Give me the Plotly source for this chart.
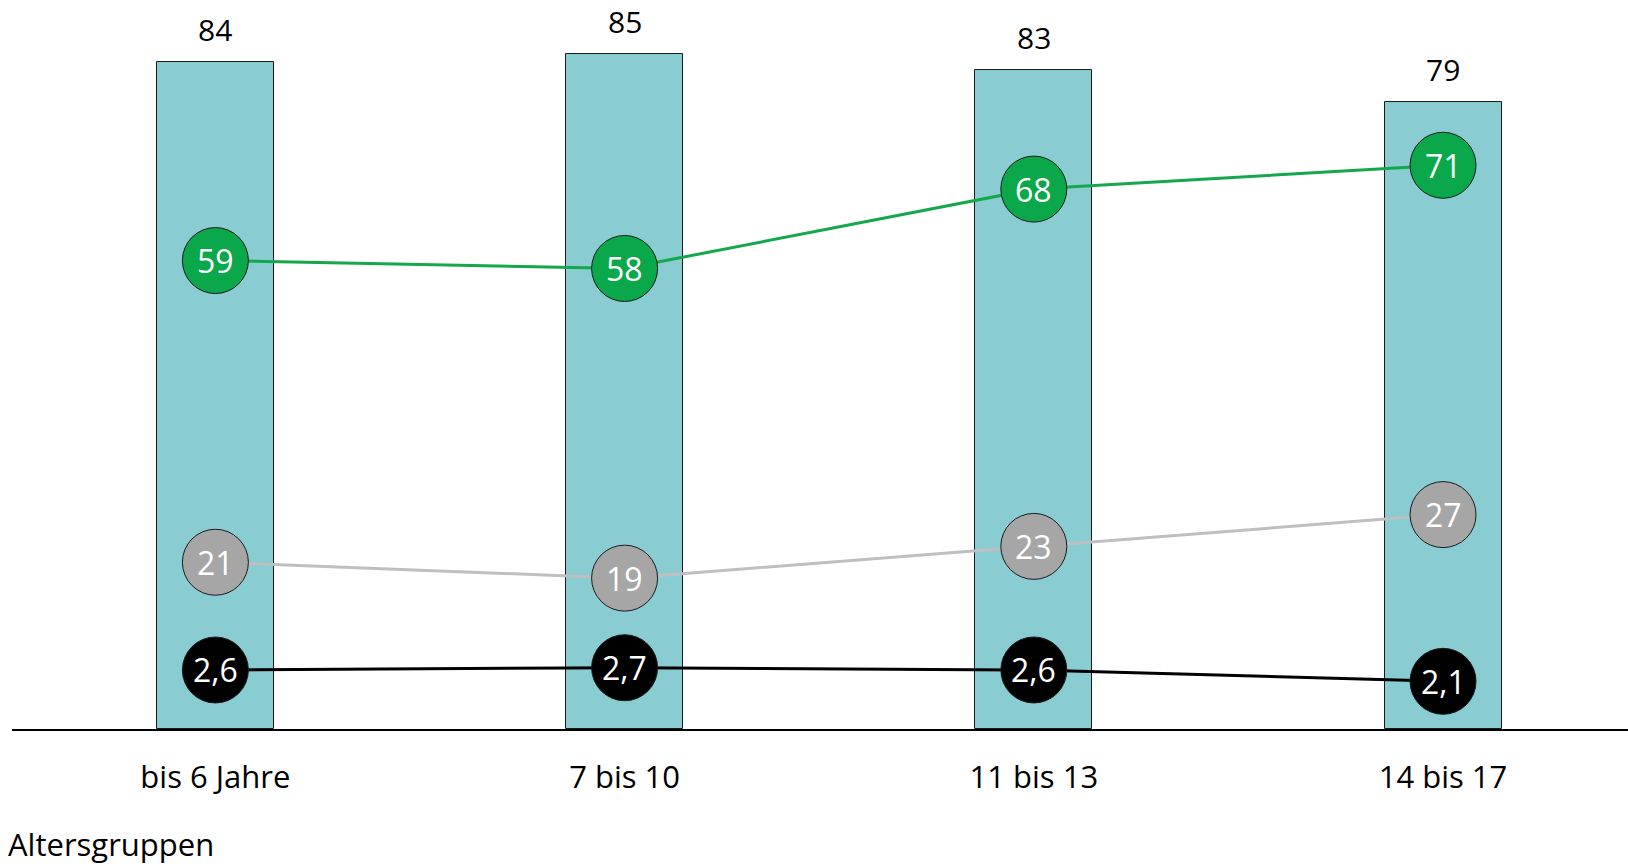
import plotly.graph_objects as go

categories = ["bis 6 Jahre", "7 bis 10", "11 bis 13", "14 bis 17"]
bar_values = [84, 85, 83, 79]
green_values = [59, 58, 68, 71]
gray_values = [21, 19, 23, 27]
black_values = [2.6, 2.7, 2.6, 2.1]

FONT = "Open Sans"
fig = go.Figure()

fig.add_trace(go.Bar(
    x=categories, y=bar_values, width=0.286,
    marker=dict(color="#89CDD3", line=dict(color="#1a1a1a", width=1)),
    hoverinfo="skip", showlegend=False,
))

def line_trace(vals, fill, linecol, yaxis="y", yref="y", fmt=lambda v: str(v)):
    fig.add_trace(go.Scatter(
        x=categories, y=vals, yaxis=yaxis,
        mode="lines+markers",
        line=dict(color=linecol, width=3),
        marker=dict(size=66, color=fill, line=dict(color="#1a1a1a", width=1)),
        showlegend=False, cliponaxis=False, hoverinfo="skip",
    ))
    for c, v in zip(categories, vals):
        fig.add_annotation(x=c, y=v, yref=yref, text=fmt(v), showarrow=False,
                           xanchor="center", yanchor="middle", yshift=0,
                           font=dict(family=FONT, size=32, color="white"))

line_trace(green_values, "#0AA84A", "#13A84B")
line_trace(gray_values, "#A6A6A6", "#BFBFBF")
line_trace(black_values, "#000000", "#000000", yaxis="y2", yref="y2",
           fmt=lambda v: f"{v:.1f}".replace(".", ","))

for c, v in zip(categories, bar_values):
    fig.add_annotation(x=c, y=v, text=str(v), showarrow=False, yanchor="bottom",
                       yshift=10, font=dict(family=FONT, size=30, color="black"))

fig.add_annotation(x=0, xref="paper", y=0, yref="paper", xanchor="left", yanchor="middle",
                   text="Altersgruppen", showarrow=False, yshift=-115, xshift=-6,
                   font=dict(family=FONT, size=31, color="black"))

fig.update_layout(
    width=1628, height=866,
    margin=dict(l=12, r=0, t=0, b=137),
    plot_bgcolor="white", paper_bgcolor="white",
    xaxis=dict(type="category", range=[-0.497, 3.452], showline=True, linecolor="black",
               linewidth=2, showgrid=False, ticks="", ticklabelstandoff=20,
               tickfont=dict(family=FONT, size=31, color="black")),
    yaxis=dict(range=[0, 729 / 7.94], visible=False, showgrid=False, zeroline=False),
    yaxis2=dict(range=[0, 729 / 22.7], overlaying="y", visible=False, showgrid=False,
                zeroline=False),
    bargap=0,
)

fig.write_html("out.html")
